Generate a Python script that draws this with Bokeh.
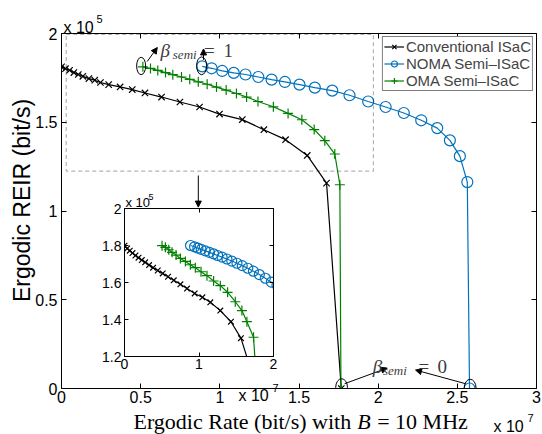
import math
from bokeh.plotting import figure
from bokeh.models import (Range1d, LinearAxis, FixedTicker, Legend, LegendItem, Label,
                          Arrow, NormalHead, BoxAnnotation, CustomJSTickFormatter)
from bokeh.embed import file_html
from bokeh.resources import INLINE

# ---------------- data (rate in 1e7 bit/s, REIR in 1e5 bit/s) ----------------
conv_rate = [0.000, 0.025, 0.051, 0.078, 0.106, 0.135, 0.173, 0.210, 0.246, 0.298, 0.370, 0.447,
             0.527, 0.632, 0.748, 0.872, 0.998, 1.142, 1.278, 1.415, 1.552, 1.674, 1.767]
conv_reir = [1.812, 1.802, 1.793, 1.780, 1.769, 1.759, 1.746, 1.737, 1.724, 1.712, 1.699, 1.684,
             1.665, 1.642, 1.614, 1.586, 1.546, 1.515, 1.458, 1.402, 1.313, 1.157, 0.000]

noma_rate = [0.889, 0.948, 1.015, 1.088, 1.162, 1.243, 1.327, 1.411, 1.503, 1.600, 1.710, 1.819,
             1.937, 2.047, 2.162, 2.272, 2.373, 2.453, 2.516, 2.563, 2.577]
noma_reir = [1.815, 1.804, 1.789, 1.778, 1.769, 1.755, 1.740, 1.727, 1.712, 1.695, 1.678, 1.652,
             1.617, 1.586, 1.552, 1.511, 1.467, 1.398, 1.309, 1.163, 0.000]

oma_rate = [0.514, 0.562, 0.608, 0.657, 0.703, 0.758, 0.810, 0.864, 0.920, 0.979, 1.040, 1.105,
            1.169, 1.241, 1.338, 1.431, 1.518, 1.596, 1.663, 1.726, 1.758, 1.765]
oma_reir = [1.812, 1.803, 1.792, 1.780, 1.768, 1.755, 1.742, 1.728, 1.714, 1.698, 1.681, 1.662,
            1.642, 1.617, 1.587, 1.550, 1.514, 1.459, 1.396, 1.321, 1.148, 0.000]

# inset (zoomed) samples
ins_conv_rate = [0.000, 0.036, 0.071, 0.107, 0.147, 0.188, 0.232, 0.277, 0.330, 0.384, 0.446, 0.513,
                 0.585, 0.661, 0.750, 0.839, 0.942, 1.045, 1.152, 1.286, 1.429, 1.563, 1.674, 1.767]
ins_conv_reir = [1.799, 1.784, 1.772, 1.759, 1.746, 1.734, 1.721, 1.709, 1.694, 1.680, 1.665, 1.649,
                 1.631, 1.612, 1.590, 1.567, 1.541, 1.520, 1.493, 1.448, 1.388, 1.299, 1.157, 0.000]
ins_oma_rate = [0.504, 0.549, 0.594, 0.638, 0.692, 0.750, 0.817, 0.884, 0.951, 1.027, 1.107, 1.196,
                1.286, 1.384, 1.487, 1.576, 1.643, 1.732, 1.758, 1.765]
ins_oma_reir = [1.799, 1.790, 1.777, 1.763, 1.748, 1.730, 1.714, 1.696, 1.680, 1.658, 1.637, 1.608,
                1.583, 1.547, 1.496, 1.448, 1.388, 1.304, 1.148, 0.000]
ins_noma_rate = [0.886, 0.940, 0.985, 1.030, 1.085, 1.140, 1.195, 1.250, 1.310, 1.375, 1.440, 1.510,
                 1.580, 1.655, 1.730, 1.810, 1.890, 1.970, 2.047]
ins_noma_reir = [1.800, 1.793, 1.786, 1.779, 1.771, 1.763, 1.755, 1.746, 1.737, 1.727, 1.716, 1.704,
                 1.691, 1.677, 1.661, 1.643, 1.623, 1.602, 1.586]

series_names = ["Conventional ISaC", "NOMA Semi\u2013ISaC", "OMA Semi\u2013ISaC"]

x_ticks = [0.0, 0.5, 1.0, 1.5, 2.0, 2.5, 3.0]
x_tick_labels = ["0", "0.5", "1", "1.5", "2", "2.5", "3"]
y_ticks = [0.0, 0.5, 1.0, 1.5, 2.0]
y_tick_labels = ["0", "0.5", "1", "1.5", "2"]
ins_x_ticks = [0.0, 1.0, 2.0]
ins_x_tick_labels = ["0", "1", "2"]
ins_y_ticks = [1.2, 1.4, 1.6, 1.8, 2.0]
ins_y_tick_labels = ["1.2", "1.4", "1.6", "1.8", "2"]

# annotation geometry (data units of the main axes)
zoom_box = dict(left=0.03, right=1.97, bottom=1.225, top=1.995)
ell_x = [0.503, 0.885, 1.769, 2.581]
ell_y = [1.817, 1.818, 0.007, 0.004]
ell_w = [0.057, 0.063, 0.074, 0.074]
ell_h = [0.098, 0.100, 0.096, 0.096]
arrows = [  # x_start, y_start, x_end, y_end
    (0.541, 1.842, 0.605, 1.921),
    (0.897, 1.852, 0.897, 1.913),
    (1.788, 0.027, 2.057, 0.115),
    (2.552, 0.027, 2.236, 0.104),
    (0.864, 1.200, 0.864, 1.022),
]

BLACK = "#000000"
BLUE = "#0072BD"
GREEN = "#008000"
SANS = "Liberation Sans"
SERIF = "Liberation Serif"
TXT_GRAY = "#3c3c3c"
W, H = 542, 434


def style_axis(ax, ticks, labels, size, tick_len, standoff, show=True):
    ax.ticker = FixedTicker(ticks=ticks)
    if show:
        ax.major_label_overrides = {t: l for t, l in zip(ticks, labels)}
        ax.major_label_text_font_size = size
    else:
        ax.formatter = CustomJSTickFormatter(code="return ''")
        ax.major_label_text_font_size = "1px"
    ax.major_tick_in = tick_len
    ax.major_tick_out = 0
    ax.minor_tick_line_color = None
    ax.axis_line_color = "black"
    ax.major_tick_line_color = "black"
    ax.major_label_text_font = SANS
    ax.major_label_text_color = "black"
    ax.major_label_standoff = standoff


# ---------------- main figure ----------------
p = figure(width=W, height=H, x_range=Range1d(0, 3), y_range=Range1d(0, 2),
           output_backend="svg", toolbar_location=None,
           min_border_left=61, min_border_right=6, min_border_top=33, min_border_bottom=46)
p.grid.visible = False
p.outline_line_color = None
style_axis(p.xaxis[0], x_ticks, x_tick_labels, "16px", 5, 2)
style_axis(p.yaxis[0], y_ticks, y_tick_labels, "16px", 5, 4)
top_ax = LinearAxis()
style_axis(top_ax, x_ticks, x_tick_labels, "16px", 5, 0, show=False)
p.add_layout(top_ax, "above")
right_ax = LinearAxis()
style_axis(right_ax, y_ticks, y_tick_labels, "16px", 5, 0, show=False)
p.add_layout(right_ax, "right")

p.add_layout(BoxAnnotation(fill_alpha=0, line_color="#000000", line_width=1.2, line_dash="4 3",
                           **zoom_box))

l1 = p.line(conv_rate, conv_reir, line_color=BLACK, line_width=1.2)
s1 = p.scatter(conv_rate, conv_reir, marker="x", size=9, line_color=BLACK, line_width=1.2)
l2 = p.line(noma_rate, noma_reir, line_color=BLUE, line_width=1.2)
s2 = p.scatter(noma_rate, noma_reir, marker="circle", size=11, line_color=BLUE,
               fill_color=None, line_width=1.2)
l3 = p.line(oma_rate, oma_reir, line_color=GREEN, line_width=1.2)
s3 = p.scatter(oma_rate, oma_reir, marker="cross", size=10, line_color=GREEN, line_width=1.2)

p.ellipse(x=ell_x, y=ell_y, width=ell_w, height=ell_h, fill_color=None,
          line_color="black", line_width=1)
for xs, ys, xe, ye in arrows:
    p.add_layout(Arrow(x_start=xs, y_start=ys, x_end=xe, y_end=ye, line_width=1,
                       end=NormalHead(size=6, fill_color="black", line_color="black")))

legend = Legend(items=[LegendItem(label=series_names[0], renderers=[l1, s1]),
                       LegendItem(label=series_names[1], renderers=[l2, s2]),
                       LegendItem(label=series_names[2], renderers=[l3, s3])],
                location="top_right", margin=3, padding=1, spacing=0,
                label_height=15, glyph_height=15, glyph_width=20, label_standoff=2,
                label_text_font=SANS, label_text_font_size="15px",
                border_line_color="black", border_line_width=1,
                background_fill_color="white", background_fill_alpha=1)
p.add_layout(legend)


def add_label(fig, text, x, y, font, size, style="normal", color="black", angle=0.0,
              align="left", baseline="alphabetic"):
    fig.add_layout(Label(x=x, y=y, text=text, angle=angle,
                         text_font=font, text_font_size=size, text_font_style=style,
                         text_color=color, text_baseline=baseline, text_align=align))


# beta_semi annotations (data units)
add_label(p, "\u03b2", 0.625, 1.906, SERIF, "19px", "italic", TXT_GRAY)
add_label(p, "semi", 0.703, 1.884, SERIF, "13px", "italic", TXT_GRAY)
add_label(p, "=", 0.900, 1.906, SERIF, "19px", color=TXT_GRAY)
add_label(p, "1", 1.023, 1.906, SERIF, "19px", color=TXT_GRAY)
add_label(p, "\u03b2", 1.965, 0.125, SERIF, "19px", "italic", TXT_GRAY)
add_label(p, "semi", 2.030, 0.103, SERIF, "13px", "italic", TXT_GRAY)
add_label(p, "=", 2.255, 0.125, SERIF, "19px", color=TXT_GRAY)
add_label(p, "0", 2.375, 0.125, SERIF, "19px", color=TXT_GRAY)

# ---------------- inset figure ----------------
ins = figure(width=201, height=216, x_range=Range1d(0, 2), y_range=Range1d(1.2, 2),
             output_backend="svg", toolbar_location=None,
             min_border_left=28, min_border_right=24, min_border_top=24, min_border_bottom=44)
ins.grid.visible = False
ins.outline_line_color = None
ins.border_fill_color = None
ins.background_fill_color = "white"
style_axis(ins.xaxis[0], ins_x_ticks, ins_x_tick_labels, "14px", 4, 2)
style_axis(ins.yaxis[0], ins_y_ticks, ins_y_tick_labels, "14px", 4, 3)
ins_top = LinearAxis()
style_axis(ins_top, ins_x_ticks, ins_x_tick_labels, "14px", 4, 0, show=False)
ins.add_layout(ins_top, "above")
ins_right = LinearAxis()
style_axis(ins_right, ins_y_ticks, ins_y_tick_labels, "14px", 4, 0, show=False)
ins.add_layout(ins_right, "right")

ins.line(ins_conv_rate, ins_conv_reir, line_color=BLACK, line_width=1.2)
ins.scatter(ins_conv_rate, ins_conv_reir, marker="x", size=8, line_color=BLACK, line_width=1.2)
ins.line(ins_noma_rate, ins_noma_reir, line_color=BLUE, line_width=1.2)
ins.scatter(ins_noma_rate, ins_noma_reir, marker="circle", size=10, line_color=BLUE,
            fill_color=None, line_width=1.2)
ins.line(ins_oma_rate, ins_oma_reir, line_color=GREEN, line_width=1.2)
ins.scatter(ins_oma_rate, ins_oma_reir, marker="cross", size=10, line_color=GREEN, line_width=1.2)
ins.styles = {"position": "absolute", "left": "96px", "top": "184px", "z-index": "2"}

# ---------------- text overlay (frame == whole canvas, units = page pixels, y up) ----------------
ov = figure(width=W, height=H, x_range=Range1d(0, W), y_range=Range1d(0, H),
            x_axis_type=None, y_axis_type=None, title=None,
            output_backend="svg", toolbar_location=None,
            min_border_left=0, min_border_right=0, min_border_top=0, min_border_bottom=0)
ov.grid.visible = False
ov.outline_line_color = None
ov.border_fill_color = None
ov.background_fill_color = None
ov.styles = {"position": "absolute", "left": "0px", "top": "0px", "z-index": "3",
             "pointer-events": "none"}

add_label(ov, "Ergodic REIR (bit/s)", 21, 234, SANS, "23px", angle=math.pi / 2,
          align="center", baseline="middle")
add_label(ov, "x 10", 63, 407, SANS, "16px")
add_label(ov, "5", 96, 416, SANS, "11px")
add_label(ov, "x 10", 493, 8, SANS, "16px")
add_label(ov, "7", 527, 17, SANS, "11px")
add_label(ov, "Ergodic Rate (bit/s) with", 133, 13, SERIF, "22px")
add_label(ov, "B", 356.7, 13, SERIF, "22px", style="italic")
add_label(ov, "= 10 MHz", 376.7, 13, SERIF, "22px")
add_label(ov, "x 10", 125, 232, SANS, "13px")
add_label(ov, "5", 148, 238, SANS, "9px")
add_label(ov, "x 10", 238, 39, SANS, "16px")
add_label(ov, "7", 272, 47, SANS, "11px")

open("out.html", "w").write(file_html([p, ins, ov], INLINE))
